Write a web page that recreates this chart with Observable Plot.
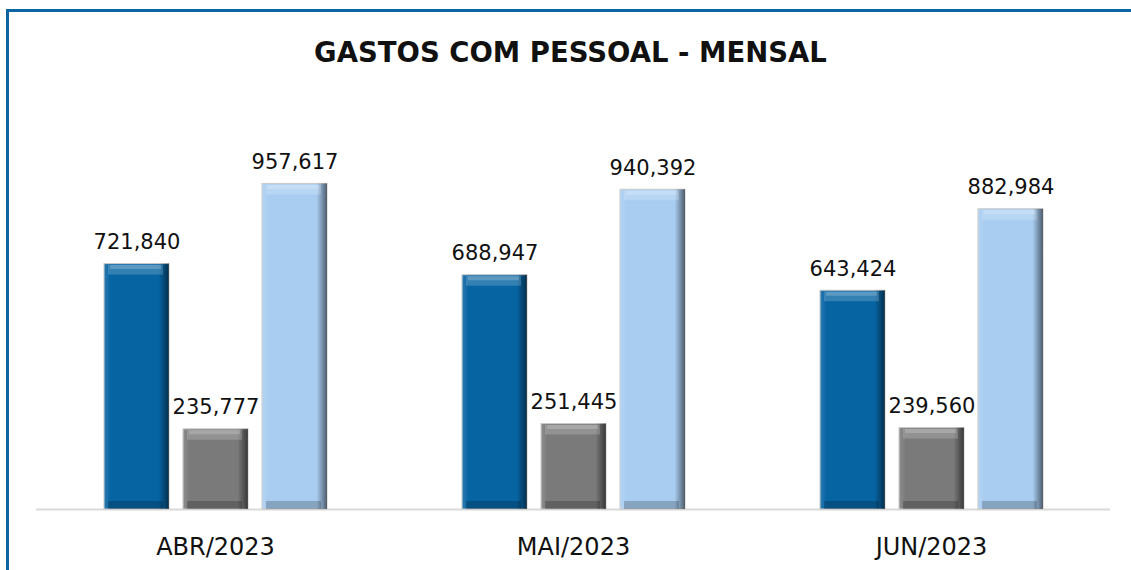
<!DOCTYPE html>
<html>
<head>
<meta charset="utf-8">
<script src="https://cdn.jsdelivr.net/npm/d3@7"></script>
<script src="https://cdn.jsdelivr.net/npm/@observablehq/plot@0.6"></script>
<style>
  html, body { margin: 0; padding: 0; background: #fff; }
  #wrap { position: relative; width: 1131px; height: 570px; overflow: hidden; font-family: "DejaVu Sans", sans-serif; }
  #frame { position: absolute; left: 6px; top: 9px; width: 1140px; height: 600px; border-top: 3px solid #0b65a2; border-left: 3px solid #0b65a2; }
  #title { position: absolute; left: 5px; top: 0; width: 1131px; height: 100px; text-align: center; line-height: 104px; font-weight: bold; font-size: 27.5px; color: #111; }
  #chart { position: absolute; left: 0; top: 100px; }
</style>
</head>
<body>
<div id="wrap">
  <div id="frame"></div>
  <div id="title">GASTOS COM PESSOAL - MENSAL</div>
  <div id="chart"></div>
</div>
<script>
const months = ["ABR/2023", "MAI/2023", "JUN/2023"];
const seriesNames = ["Pessoal", "Encargos", "Total"];
const pessoal = [721840, 688947, 643424];
const encargos = [235777, 251445, 239560];
const total = [957617, 940392, 882984];
const seriesColors = ["#0764a3", "#7a7a7a", "#a8cdf1"];

const seriesValues = [pessoal, encargos, total];
const rows = [];
months.forEach((m, i) => {
  seriesNames.forEach((s, j) => rows.push({month: m, series: s, value: seriesValues[j][i]}));
});

const fmt = d3.format(",");

const plot = Plot.plot({
  width: 1131,
  height: 470,
  marginLeft: 35,
  marginRight: 20,
  marginTop: 1,
  marginBottom: 61,
  style: {fontFamily: "DejaVu Sans, sans-serif", color: "#111"},
  fx: {domain: months, padding: 0, label: null},
  x: {domain: seriesNames, paddingInner: 0.18, paddingOuter: 0.85, axis: null},
  y: {domain: [0, 1200000], axis: null},
  color: {domain: seriesNames, range: seriesColors},
  marks: [
    Plot.ruleY([0], {stroke: "#d9d9d9", strokeWidth: 2}),
    Plot.barY(rows, {fx: "month", x: "series", y: "value", fill: "series", stroke: "#c8c8c8", strokeWidth: 1}),
    Plot.barY(rows, {fx: "month", x: "series", y: "value", fill: "url(#bevelH)"}),
    Plot.tickY(rows, {fx: "month", x: "series", y: "value", stroke: "white", strokeOpacity: 0.18, strokeWidth: 10, dy: 5.5, insetLeft: 4, insetRight: 6}),
    Plot.tickY(rows, {fx: "month", x: "series", y: "value", stroke: "white", strokeOpacity: 0.2, strokeWidth: 4, dy: 3, insetLeft: 6, insetRight: 8}),
    Plot.tickY(rows, {fx: "month", x: "series", y: () => 0, stroke: "black", strokeOpacity: 0.2, strokeWidth: 8, dy: -4.5, insetLeft: 4, insetRight: 6}),
    Plot.text(rows, {fx: "month", x: "series", y: "value", text: d => fmt(d.value), lineAnchor: "bottom", dy: -15, fontSize: 21, fill: "#111"}),
    Plot.axisFx({anchor: "bottom", tickSize: 0, tickPadding: 28, fontSize: 24, label: null, color: "#111"})
  ]
});

d3.select(plot).insert("defs", ":first-child").html(`
  <linearGradient id="bevelH" x1="0" y1="0" x2="1" y2="0">
    <stop offset="0" stop-color="white" stop-opacity="0.15"/>
    <stop offset="0.1" stop-color="white" stop-opacity="0"/>
    <stop offset="0.84" stop-color="black" stop-opacity="0"/>
    <stop offset="0.93" stop-color="black" stop-opacity="0.3"/>
    <stop offset="1" stop-color="black" stop-opacity="0.55"/>
  </linearGradient>`);

document.getElementById("chart").appendChild(plot);
</script>
</body>
</html>
